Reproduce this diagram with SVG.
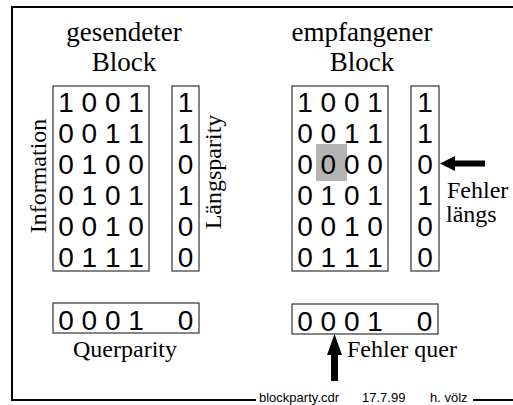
<svg xmlns="http://www.w3.org/2000/svg" width="513" height="405" viewBox="0 0 513 405">
  <style>
    .frame { fill: none; stroke: #000; stroke-width: 2; }
    .box { fill: none; stroke: #333; stroke-width: 1.2; }
    .title { font-size: 27px; fill: #000; text-anchor: middle; }
    .label { font-size: 24px; fill: #000; }
    .bits { font-size: 28px; fill: #000; text-anchor: middle; }
    .foot { font-size: 13px; fill: #000; }
    .arrow { fill: #000; }
  </style>
  <rect width="513" height="405" fill="#fff"/>

  <!-- page frame -->
  <g id="frame">
    <path class="frame" d="M513,7 H12 V400 H256"/>
    <path class="frame" d="M473,400 H513"/>
  </g>

  <g font-family="Liberation Serif, Times New Roman, serif">
    <!-- sent block headings and labels -->
    <g id="sent-title">
      <text class="title" x="124" y="41">gesendeter</text>
      <text class="title" x="124" y="71">Block</text>
    </g>
    <g id="sent-info-label">
      <text class="label" text-anchor="middle" transform="translate(46,176) rotate(-90)">Information</text>
    </g>
    <g id="sent-parity-label">
      <text class="label" text-anchor="middle" transform="translate(221,172) rotate(-90)">Längsparity</text>
    </g>
    <g id="sent-cross-label">
      <text class="label" text-anchor="middle" x="125" y="357">Querparity</text>
    </g>
    <!-- received block headings and labels -->
    <g id="recv-title">
      <text class="title" x="362" y="41">empfangener</text>
      <text class="title" x="362" y="71">Block</text>
    </g>
    <g id="error-long">
      <text class="label" x="447" y="198" font-size="23">Fehler</text>
      <text class="label" x="446" y="222" font-size="23">längs</text>
    </g>
    <g id="error-cross">
      <text class="label" x="347" y="357">Fehler quer</text>
    </g>
  </g>

  <g font-family="Liberation Sans, Arial, sans-serif">
    <g id="sent-info">
      <rect class="box" x="53" y="86" width="96" height="185"/>
      <text class="bits" x="101" y="112" xml:space="preserve">1 0 0 1</text>
      <text class="bits" x="101" y="143" xml:space="preserve">0 0 1 1</text>
      <text class="bits" x="101" y="174" xml:space="preserve">0 1 0 0</text>
      <text class="bits" x="101" y="205" xml:space="preserve">0 1 0 1</text>
      <text class="bits" x="101" y="236" xml:space="preserve">0 0 1 0</text>
      <text class="bits" x="101" y="267" xml:space="preserve">0 1 1 1</text>
    </g>
    <g id="sent-parity">
      <rect class="box" x="172" y="86" width="27" height="185"/>
      <text class="bits" x="185.5" y="112">1</text>
      <text class="bits" x="185.5" y="143">1</text>
      <text class="bits" x="185.5" y="174">0</text>
      <text class="bits" x="185.5" y="205">1</text>
      <text class="bits" x="185.5" y="236">0</text>
      <text class="bits" x="185.5" y="267">0</text>
    </g>
    <g id="sent-cross">
      <rect class="box" x="53" y="303" width="146" height="30"/>
      <text class="bits" x="101" y="330" xml:space="preserve">0 0 0 1</text>
      <text class="bits" x="185.5" y="330">0</text>
    </g>

    <g id="recv-info">
      <rect x="316" y="144" width="31" height="37" fill="#b4b4b4"/>
      <rect class="box" x="292" y="86" width="96" height="185"/>
      <text class="bits" x="340" y="112" xml:space="preserve">1 0 0 1</text>
      <text class="bits" x="340" y="143" xml:space="preserve">0 0 1 1</text>
      <text class="bits" x="340" y="174" xml:space="preserve">0 0 0 0</text>
      <text class="bits" x="340" y="205" xml:space="preserve">0 1 0 1</text>
      <text class="bits" x="340" y="236" xml:space="preserve">0 0 1 0</text>
      <text class="bits" x="340" y="267" xml:space="preserve">0 1 1 1</text>
    </g>
    <g id="recv-parity">
      <rect class="box" x="411" y="86" width="28" height="185"/>
      <text class="bits" x="425" y="112">1</text>
      <text class="bits" x="425" y="143">1</text>
      <text class="bits" x="425" y="174">0</text>
      <text class="bits" x="425" y="205">1</text>
      <text class="bits" x="425" y="236">0</text>
      <text class="bits" x="425" y="267">0</text>
    </g>
    <g id="recv-cross">
      <rect class="box" x="292" y="304" width="146" height="30"/>
      <text class="bits" x="340" y="331" xml:space="preserve">0 0 0 1</text>
      <text class="bits" x="424.5" y="331">0</text>
    </g>

    <!-- footer -->
    <g id="footer">
      <text class="foot" x="259" y="402">blockparty.cdr</text>
      <text class="foot" x="362" y="402">17.7.99</text>
      <text class="foot" x="430" y="402">h. völz</text>
    </g>
  </g>

  <!-- error markers -->
  <g id="connectors">
    <polygon class="arrow" points="440,163.5 455,156 455,160.5 485,160.5 485,166.5 455,166.5 455,171"/>
    <polygon class="arrow" points="334.5,334 342,355 338,355 338,381 331,381 331,355 327,355"/>
  </g>
</svg>
